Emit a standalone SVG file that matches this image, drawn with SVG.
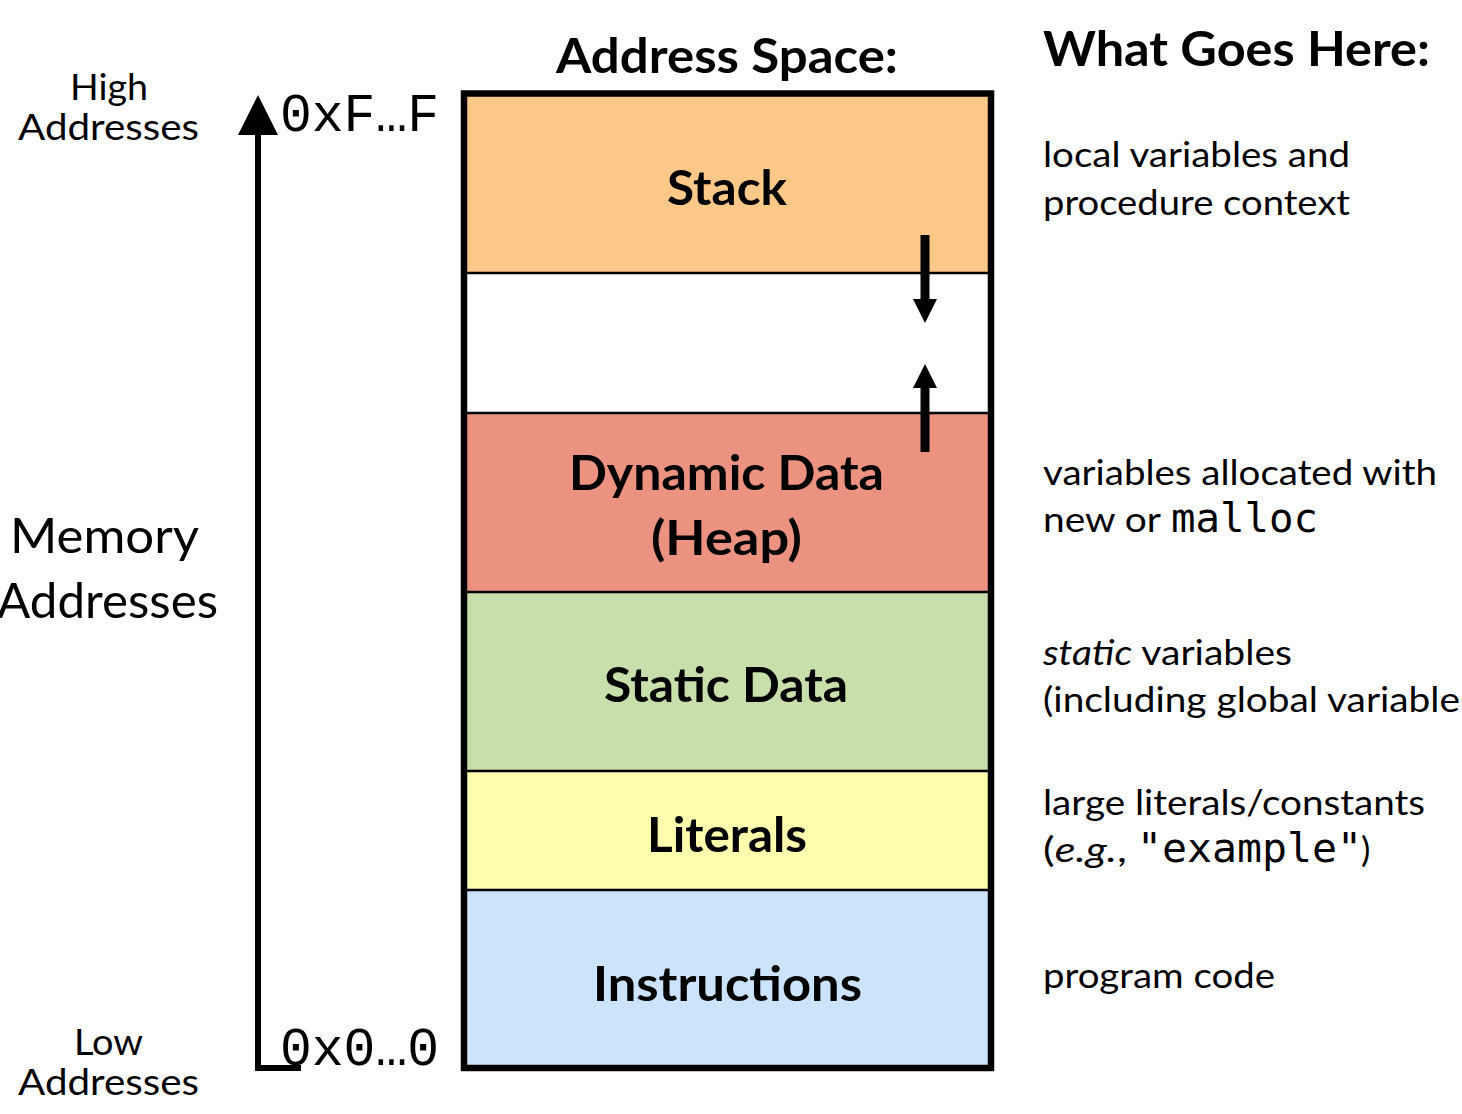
<svg xmlns="http://www.w3.org/2000/svg" width="1462" height="1114" viewBox="0 0 1462 1114">
<style>
.t{font-family:Lato,"Open Sans","Noto Sans",sans-serif;fill:#000}
.b{font-weight:bold}
.lbl{font-size:47px;font-weight:bold}
.desc{font-size:35px}
.mono{font-family:"Liberation Mono","Courier New",monospace;font-size:53px}
.cmono{font-family:"DejaVu Sans Mono",monospace;font-size:40px;fill:#000}
.div{stroke:#000;stroke-width:2.5}
</style>
<rect width="1462" height="1114" fill="#fff"/>
<g id="titles">
<text class="t b" x="556" y="73" font-size="47" textLength="342" lengthAdjust="spacingAndGlyphs">Address Space:</text>
<text class="t b" x="1043" y="66" font-size="47" textLength="387" lengthAdjust="spacingAndGlyphs">What Goes Here:</text>
</g>
<g id="axis-labels">
<text class="t" x="70" y="100" font-size="37" textLength="78" lengthAdjust="spacingAndGlyphs">High</text>
<text class="t" x="18" y="140" font-size="37" textLength="181" lengthAdjust="spacingAndGlyphs">Addresses</text>
<text class="t" x="10" y="553" font-size="49" textLength="189" lengthAdjust="spacingAndGlyphs">Memory</text>
<text class="t" x="-3" y="618" font-size="49" textLength="221" lengthAdjust="spacingAndGlyphs">Addresses</text>
<text class="t" x="74" y="1055" font-size="37" textLength="69" lengthAdjust="spacingAndGlyphs">Low</text>
<text class="t" x="18" y="1095" font-size="37" textLength="181" lengthAdjust="spacingAndGlyphs">Addresses</text>
<text class="mono" x="280" y="131">0xF…F</text>
<text class="mono" x="280" y="1065">0x0…0</text>
</g>
<g id="stack">
<rect x="464" y="93" width="527" height="180" fill="#FDC888"/>
<text class="t lbl" x="667" y="205" textLength="120" lengthAdjust="spacingAndGlyphs">Stack</text>
</g>
<g id="free">
<rect x="464" y="273" width="527" height="140" fill="#fff"/>
</g>
<g id="heap">
<rect x="464" y="413" width="527" height="179" fill="#EC9280"/>
<text class="t lbl" x="569" y="490" textLength="315" lengthAdjust="spacingAndGlyphs">Dynamic Data</text>
<text class="t lbl" x="651" y="555" textLength="151" lengthAdjust="spacingAndGlyphs">(Heap)</text>
</g>
<g id="static">
<rect x="464" y="592" width="527" height="179" fill="#C8DEAB"/>
<text class="t lbl" x="604" y="702" textLength="244" lengthAdjust="spacingAndGlyphs">Static Data</text>
</g>
<g id="literals">
<rect x="464" y="771" width="527" height="119" fill="#FEFDAD"/>
<text class="t lbl" x="647" y="852" textLength="160" lengthAdjust="spacingAndGlyphs">Literals</text>
</g>
<g id="instructions">
<rect x="464" y="890" width="527" height="178" fill="#CCE4FB"/>
<text class="t lbl" x="593" y="1001" textLength="269" lengthAdjust="spacingAndGlyphs">Instructions</text>
</g>
<g id="dividers">
<line class="div" x1="464" y1="273" x2="991" y2="273"/>
<line class="div" x1="464" y1="413" x2="991" y2="413"/>
<line class="div" x1="464" y1="592" x2="991" y2="592"/>
<line class="div" x1="464" y1="771" x2="991" y2="771"/>
<line class="div" x1="464" y1="890" x2="991" y2="890"/>
<rect x="464" y="93.5" width="527" height="974.5" fill="none" stroke="#000" stroke-width="6.5"/>
</g>
<g id="connectors">
<path d="M258,130 V1068 H301" fill="none" stroke="#000" stroke-width="6"/>
<polygon points="258,95 238,135 278,135" fill="#000"/>
<line x1="925" y1="235" x2="925" y2="302" stroke="#000" stroke-width="9"/>
<polygon points="913,299 937,299 925,323" fill="#000"/>
<line x1="925" y1="385" x2="925" y2="452" stroke="#000" stroke-width="9"/>
<polygon points="913,388 937,388 925,364" fill="#000"/>
</g>
<g id="descriptions">
<text class="t desc" x="1043" y="167" textLength="307" lengthAdjust="spacingAndGlyphs">local variables and</text>
<text class="t desc" x="1043" y="215" textLength="307" lengthAdjust="spacingAndGlyphs">procedure context</text>
<text class="t desc" x="1043" y="485" textLength="394" lengthAdjust="spacingAndGlyphs">variables allocated with</text>
<text class="t desc" x="1043" y="532" textLength="118" lengthAdjust="spacingAndGlyphs">new or</text>
<text class="cmono" x="1171" y="532" textLength="147" lengthAdjust="spacingAndGlyphs">malloc</text>
<text class="t desc" x="1043" y="665" textLength="249" lengthAdjust="spacingAndGlyphs"><tspan font-style="italic">static</tspan> variables</text>
<text class="t desc" x="1043" y="712" textLength="417" lengthAdjust="spacingAndGlyphs">(including global variable</text>
<text class="t desc" x="1043" y="815" textLength="382" lengthAdjust="spacingAndGlyphs">large literals/constants</text>
<text class="t desc" x="1043" y="862" textLength="84" lengthAdjust="spacingAndGlyphs">(<tspan font-style="italic">e.g.</tspan>,</text>
<text class="cmono" x="1137" y="862" textLength="225" lengthAdjust="spacingAndGlyphs">"example"</text>
<text class="t desc" x="1361" y="862">)</text>
<text class="t desc" x="1043" y="988" textLength="232" lengthAdjust="spacingAndGlyphs">program code</text>
</g>
</svg>
